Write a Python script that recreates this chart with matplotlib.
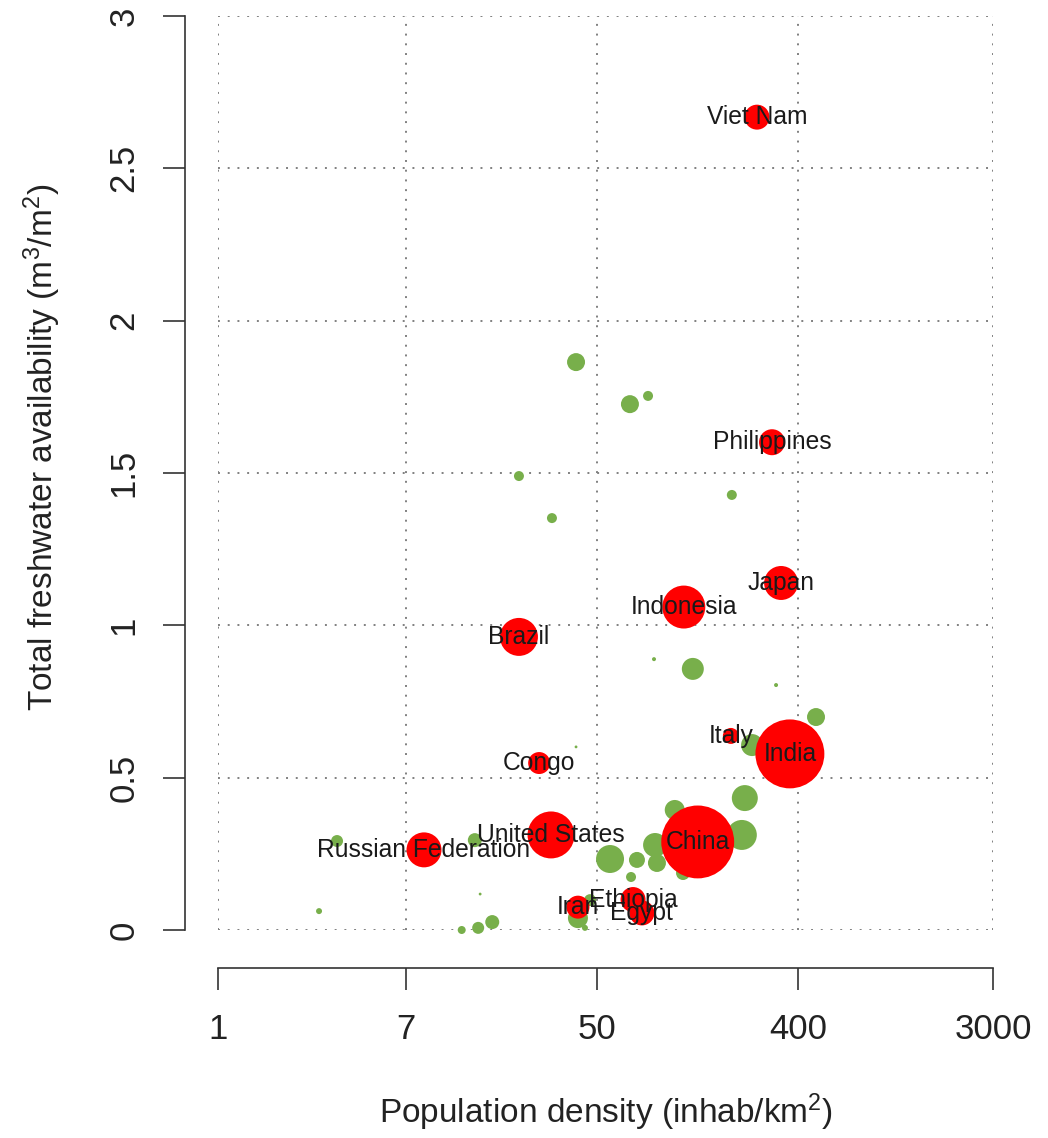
#------------------------------------------------------------------------------
# Freshwater availability vs population density (bubble chart, log x axis)
#------------------------------------------------------------------------------

import matplotlib.pyplot as plt
import numpy as np

plt.rcParams['font.family'] = ['Liberation Sans', 'DejaVu Sans']
plt.rcParams['mathtext.fontset'] = 'custom'
plt.rcParams['mathtext.rm'] = 'Liberation Sans'
plt.rcParams['mathtext.it'] = 'Liberation Sans:italic'

# Labelled countries (red bubbles)
names = ['Viet Nam', 'Philippines', 'Japan', 'Indonesia', 'Brazil', 'Italy', 'India',
         'Congo', 'China', 'United States', 'Russian Federation', 'Ethiopia', 'Egypt', 'Iran']
dens = [262, 306, 336, 123, 22.4, 200, 368, 27.6, 142, 31.2, 8.4, 72.8, 79.8, 41.2]
water = [2.668, 1.601, 1.139, 1.06, 0.962, 0.637, 0.578, 0.548, 0.289, 0.312, 0.263, 0.10, 0.056, 0.075]
weight = [15.6, 16.9, 28.9, 46.2, 36.1, 6.4, 119, 12.1, 133, 55.2, 30.6, 15.6, 15.6, 13.2]

# Other countries (green bubbles)
dens_o = [40.4, 70.5, 85, 22.4, 31.5, 202, 90.4, 135, 319, 40.4, 482, 249, 231, 224, 112,
          57.4, 75.8, 91.4, 93.2, 71.3, 122, 41.2, 44.3, 17.0, 14.7, 12.4, 3.42, 14.2, 2.84, 15.0, 46.7]
water_o = [1.864, 1.726, 1.753, 1.490, 1.352, 1.428, 0.889, 0.857, 0.804, 0.601, 0.699, 0.607, 0.433,
           0.312, 0.394, 0.233, 0.230, 0.279, 0.220, 0.174, 0.187, 0.039, 0.007, 0.026, 0.007, 0.0,
           0.292, 0.295, 0.062, 0.118, 0.098]
weight_o = [8.1, 8.1, 2.5, 2.5, 2.5, 2.5, 0.4, 12.1, 0.4, 0.2, 8.1, 12.1, 16.9, 22.5, 10,
            19.6, 6.4, 14.4, 8.1, 2.5, 4.9, 10, 0.9, 4.9, 3.6, 1.6, 3.6, 4.9, 0.9, 0.2, 3.6]

xticks = [1, 7, 50, 400, 3000]
yticks = [0, 0.5, 1, 1.5, 2, 2.5, 3]
yticklabels = ['0', '0.5', '1', '1.5', '2', '2.5', '3']

scale = 20.7   # marker area per unit of weight

fig = plt.figure(figsize=(10.48, 11.38), dpi=100)
ax = fig.add_axes([218/1048, 208/1138, 775/1048, 914/1138])

ax.set_xscale('log')
ax.set_xlim(1, 3000)
ax.set_ylim(0, 3)

ax.grid(True, linestyle=(0, (1, 4)), linewidth=1.4, color='#808080', zorder=0)
ax.set_axisbelow(True)

ax.scatter(dens_o, water_o, s=np.array(weight_o)*scale, color='#78af4b', linewidths=0,
           zorder=2, clip_on=False)
ax.scatter(dens, water, s=np.array(weight)*scale, color='#ff0000', linewidths=0,
           zorder=3, clip_on=False)
for n, x, y in zip(names, dens, water):
    ax.text(x, y, n, ha='center', va='center', fontsize=17.7, color='#1a1a1a', zorder=4)

# R style detached axes
for s in ['top', 'right']:
    ax.spines[s].set_visible(False)
ax.spines['left'].set_position(('outward', 24))
ax.spines['bottom'].set_position(('outward', 27))
ax.spines['left'].set_bounds(0, 3)
ax.spines['bottom'].set_bounds(1, 3000)
for s in ['left', 'bottom']:
    ax.spines[s].set_color('#333333')
    ax.spines[s].set_linewidth(1.2)

ax.set_xticks(xticks)
ax.set_xticklabels([str(t) for t in xticks])
ax.xaxis.set_minor_locator(plt.NullLocator())
ax.set_yticks(yticks)
ax.set_yticklabels(yticklabels, rotation=90, va='center')
ax.tick_params(axis='both', length=16, width=1.2, color='#333333', labelcolor='#222222',
               labelsize=25)
ax.tick_params(axis='x', pad=17)
ax.tick_params(axis='y', pad=16)

fig.text(606/1048, 1 - 1112/1138, 'Population density (inhab/km$^2$)',
         ha='center', va='center', fontsize=24, color='#222222')
fig.text(42/1048, 1 - 447/1138, 'Total freshwater availability (m$^3$/m$^2$)',
         ha='center', va='center', rotation=90, fontsize=24, color='#222222')

plt.savefig('out.png', dpi=100)
